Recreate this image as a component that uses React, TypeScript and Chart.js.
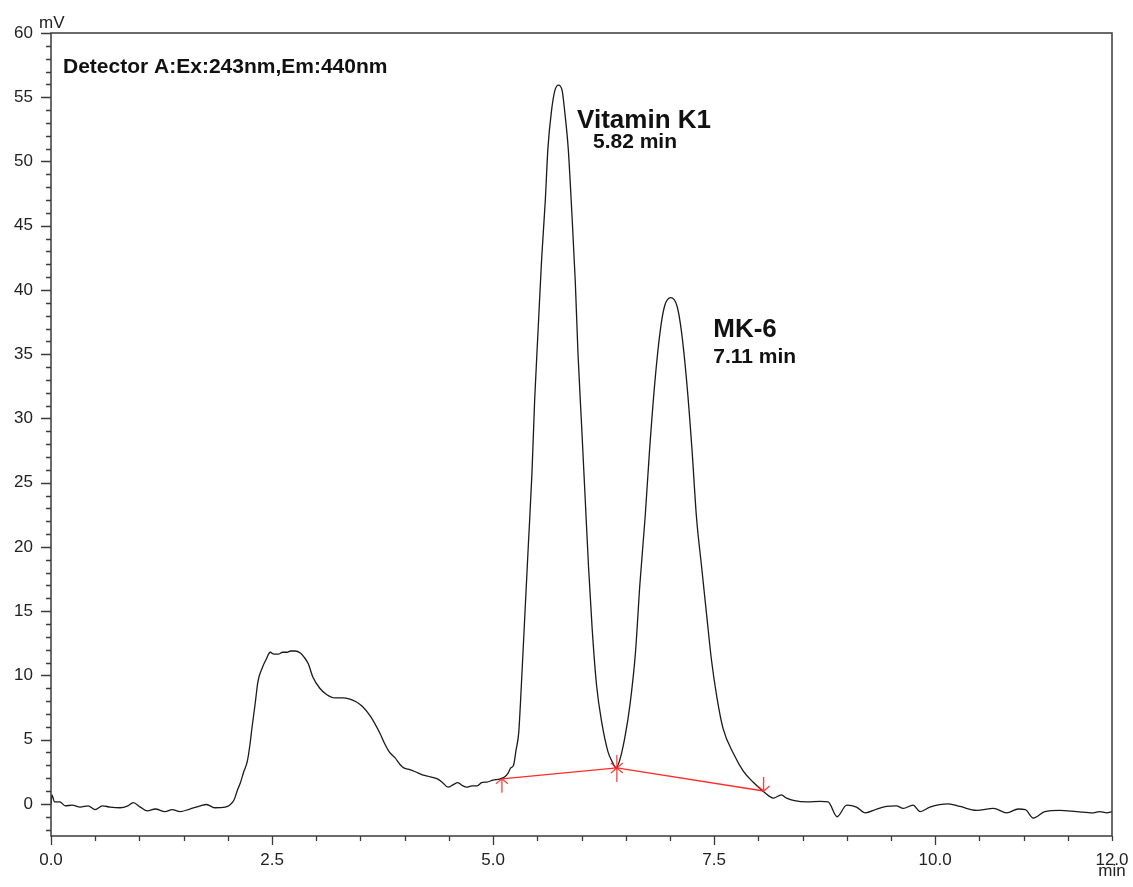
import React, { useEffect, useRef } from "react";
import { Chart, registerables } from "chart.js";

Chart.register(...registerables);

// ---- data ----
const TIME_MIN: number[] = [
  0.0, 0.01, 0.04, 0.1, 0.16, 0.24, 0.33, 0.42, 0.5, 0.58, 0.67, 0.78, 0.87, 0.93, 1.01, 1.09, 1.18, 1.29,
  1.37, 1.46, 1.57, 1.69, 1.76, 1.85, 1.97, 2.02, 2.07, 2.11,
  2.14, 2.18, 2.22, 2.25, 2.27, 2.31, 2.34, 2.39, 2.43, 2.48, 2.52, 2.57, 2.62, 2.67, 2.71, 2.76, 2.82,
  2.86, 2.91, 2.96, 3.04, 3.12, 3.21, 3.3, 3.38, 3.45, 3.52, 3.61, 3.72,
  3.78, 3.83, 3.89, 3.95, 3.99, 4.04, 4.12, 4.2, 4.29, 4.37, 4.43, 4.49, 4.55, 4.6, 4.66, 4.7, 4.76,
  4.82, 4.87, 4.93, 5.0, 5.08, 5.13, 5.17, 5.2,
  5.23, 5.26, 5.29, 5.32, 5.36, 5.4, 5.44, 5.47, 5.51, 5.55, 5.59, 5.62, 5.66, 5.7, 5.74, 5.78, 5.81,
  5.85, 5.89, 5.93, 5.96, 6.0, 6.04, 6.08, 6.12, 6.17, 6.23, 6.3, 6.35, 6.39,
  6.43, 6.49, 6.55, 6.61, 6.66, 6.72, 6.77, 6.83, 6.89, 6.94, 7.01, 7.08, 7.13, 7.19, 7.25, 7.3, 7.36,
  7.42, 7.47, 7.53, 7.6, 7.72, 7.83, 7.94, 8.06, 8.17, 8.26, 8.32,
  8.41, 8.55, 8.7, 8.79, 8.89, 9.0, 9.11, 9.21, 9.34, 9.45, 9.56, 9.64, 9.75, 9.83, 9.94, 10.15, 10.28,
  10.47, 10.66, 10.81, 10.94, 11.02, 11.11, 11.24, 11.41, 11.6, 11.79, 11.86, 11.94, 12.0,
];

const SIGNAL_MV: number[] = [
  -0.05, 0.7, 0.15, 0.15, -0.15, -0.1, -0.25, -0.15, -0.45, -0.15, -0.25, -0.3, -0.15, 0.1, -0.25, -0.55, -0.4, -0.6,
  -0.45, -0.6, -0.4, -0.15, -0.05, -0.3, -0.25, -0.1, 0.3, 1.1,
  1.6, 2.5, 3.3, 4.6, 5.75, 7.85, 9.5, 10.6, 11.2, 11.8, 11.65, 11.65, 11.8, 11.8, 11.9, 11.9, 11.75,
  11.45, 10.9, 9.9, 9.0, 8.5, 8.25, 8.25, 8.15, 7.95, 7.6, 6.85, 5.5,
  4.6, 4.0, 3.6, 3.05, 2.8, 2.7, 2.5, 2.25, 2.1, 1.95, 1.65, 1.3, 1.5, 1.65, 1.4, 1.3, 1.4,
  1.4, 1.65, 1.7, 1.85, 1.95, 2.1, 2.4, 2.8,
  2.98, 4.2, 5.55, 9.25, 14.8, 20.3, 25.8, 31.4, 37.0, 42.5, 46.9, 51.0, 53.9, 55.55, 55.95, 55.55, 53.9,
  51.0, 46.1, 40.6, 35.1, 29.6, 24.0, 18.4, 13.7, 9.25, 6.3, 4.05, 3.25, 2.8,
  3.35, 5.15, 7.8, 11.75, 17.05, 22.35, 27.55, 32.85, 36.8, 38.75, 39.4, 38.75, 36.8, 32.85, 27.55, 22.35, 18.35,
  14.4, 11.2, 8.35, 5.9, 3.9, 2.55, 1.7, 0.95, 0.45, 0.7, 0.45,
  0.25, 0.15, 0.2, 0.15, -1.0, -0.1, -0.25, -0.7, -0.4, -0.2, -0.15, -0.35, -0.1, -0.6, -0.25, 0.0, -0.2,
  -0.5, -0.35, -0.7, -0.4, -0.45, -1.1, -0.6, -0.5, -0.6, -0.7, -0.6, -0.7, -0.6,
];

// integration baseline (red) and its marker kinds
const BASELINE_TIME: number[] = [5.1, 6.4, 8.06];
const BASELINE_MV: number[] = [1.95, 2.8, 1.0];
const BASELINE_MARKS: string[] = ["start", "split", "end"];

// peak annotations
const PEAK_NAMES: string[] = ["Vitamin K1", "MK-6"];
const PEAK_RT_LABELS: string[] = ["5.82 min", "7.11 min"];
const DETECTOR_LABEL = "Detector A:Ex:243nm,Em:440nm";

// axis ticks
const X_LABEL_VALUES: number[] = [0, 2.5, 5, 7.5, 10, 12];
const X_TICK_LABELS: string[] = ["0.0", "2.5", "5.0", "7.5", "10.0", "12.0"];
const Y_LABEL_VALUES: number[] = [0, 5, 10, 15, 20, 25, 30, 35, 40, 45, 50, 55, 60];
const Y_TICK_LABELS: string[] = ["0", "5", "10", "15", "20", "25", "30", "35", "40", "45", "50", "55", "60"];
const X_UNIT = "min";
const Y_UNIT = "mV";

const FONT = "'Liberation Sans', Arial, Helvetica, sans-serif";

function near(a: number, b: number) {
  return Math.abs(a - b) < 1e-6;
}

const decorPlugin = {
  id: "decor",
  afterDraw(chart: any) {
    const ctx = chart.ctx;
    const xs = chart.scales.x;
    const ys = chart.scales.y;
    const ca = chart.chartArea;
    ctx.save();

    // frame
    ctx.strokeStyle = "#3a3a3a";
    ctx.lineWidth = 1.5;
    ctx.strokeRect(ca.left, ca.top, ca.right - ca.left, ca.bottom - ca.top);

    // tick marks
    ctx.lineWidth = 1.3;
    ctx.beginPath();
    ys.ticks.forEach((t: any) => {
      const py = Math.round(ys.getPixelForValue(t.value)) + 0.5;
      const major = Y_LABEL_VALUES.some((v) => near(v, t.value));
      const len = major ? 10 : 5;
      ctx.moveTo(ca.left - len, py);
      ctx.lineTo(ca.left, py);
    });
    xs.ticks.forEach((t: any) => {
      const px = Math.round(xs.getPixelForValue(t.value)) + 0.5;
      const major = X_LABEL_VALUES.some((v) => near(v, t.value)) && !near(t.value, 12);
      const len = major ? 9 : 5;
      ctx.moveTo(px, ca.bottom);
      ctx.lineTo(px, ca.bottom + len);
    });
    ctx.stroke();

    // x tick labels
    ctx.fillStyle = "#222";
    ctx.font = `17px ${FONT}`;
    ctx.textAlign = "center";
    ctx.textBaseline = "alphabetic";
    X_LABEL_VALUES.forEach((v, i) => {
      ctx.fillText(X_TICK_LABELS[i], xs.getPixelForValue(v), ca.bottom + 29);
    });

    // unit labels
    ctx.textAlign = "left";
    ctx.fillText(Y_UNIT, ca.left - 12, ca.top - 5);
    ctx.textAlign = "center";
    ctx.fillText(X_UNIT, ca.right, ca.bottom + 40);

    // annotations
    ctx.fillStyle = "#111";
    ctx.textAlign = "left";
    ctx.font = `bold 21px ${FONT}`;
    ctx.fillText(DETECTOR_LABEL, xs.getPixelForValue(0.136), ys.getPixelForValue(56.9));

    const nameAnchors = [
      [5.95, 52.6],
      [7.49, 36.35],
    ];
    const rtAnchors = [
      [6.13, 51.05],
      [7.49, 34.3],
    ];
    PEAK_NAMES.forEach((name, i) => {
      ctx.font = `bold 26px ${FONT}`;
      ctx.fillText(name, xs.getPixelForValue(nameAnchors[i][0]), ys.getPixelForValue(nameAnchors[i][1]));
      ctx.font = `bold 21px ${FONT}`;
      ctx.fillText(PEAK_RT_LABELS[i], xs.getPixelForValue(rtAnchors[i][0]), ys.getPixelForValue(rtAnchors[i][1]));
    });

    // baseline markers
    ctx.strokeStyle = "rgba(255,30,30,0.85)";
    ctx.lineWidth = 1.3;
    BASELINE_TIME.forEach((t, i) => {
      const px = xs.getPixelForValue(t);
      const py = ys.getPixelForValue(BASELINE_MV[i]);
      const kind = BASELINE_MARKS[i];
      ctx.beginPath();
      if (kind === "start") {
        ctx.moveTo(px, py);
        ctx.lineTo(px, py + 14);
        ctx.moveTo(px - 6, py + 5);
        ctx.lineTo(px, py);
        ctx.lineTo(px + 6, py + 5);
      } else if (kind === "end") {
        ctx.moveTo(px, py);
        ctx.lineTo(px, py - 14);
        ctx.moveTo(px - 6, py - 5);
        ctx.lineTo(px, py);
        ctx.lineTo(px + 6, py - 5);
      } else {
        ctx.moveTo(px, py - 13);
        ctx.lineTo(px, py + 14);
        ctx.moveTo(px - 6, py - 5);
        ctx.lineTo(px + 6, py + 5);
        ctx.moveTo(px - 6, py + 5);
        ctx.lineTo(px + 6, py - 5);
      }
      ctx.stroke();
    });

    ctx.restore();
  },
};

export default function App() {
  const canvasRef = useRef<HTMLCanvasElement | null>(null);

  useEffect(() => {
    const canvas = canvasRef.current;
    if (!canvas) return;

    const trace = TIME_MIN.map((t, i) => ({ x: t, y: SIGNAL_MV[i] }));
    const baseline = BASELINE_TIME.map((t, i) => ({ x: t, y: BASELINE_MV[i] }));

    const chart = new Chart(canvas, {
      type: "line",
      data: {
        datasets: [
          {
            data: baseline,
            borderColor: "rgba(255,20,20,0.9)",
            borderWidth: 1.4,
            pointRadius: 0,
            tension: 0,
            order: 0,
          },
          {
            data: trace,
            borderColor: "#1a1a1a",
            borderWidth: 1.3,
            pointRadius: 0,
            cubicInterpolationMode: "monotone",
            order: 1,
          },
        ],
      },
      options: {
        responsive: false,
        maintainAspectRatio: false,
        animation: false,
        layout: { padding: { top: 33, right: 21, left: 0, bottom: 0 } },
        plugins: {
          legend: { display: false },
          tooltip: { enabled: false },
          title: { display: false },
        },
        scales: {
          x: {
            type: "linear",
            min: 0,
            max: 12,
            grid: { display: false },
            border: { display: false },
            afterBuildTicks: (s: any) => {
              const arr: any[] = [];
              for (let k = 0; k <= 24; k++) arr.push({ value: k * 0.5 });
              s.ticks = arr;
            },
            afterFit: (s: any) => {
              s.height = 51;
            },
            ticks: {
              display: false,
              autoSkip: false,
              maxRotation: 0,
              minRotation: 0,
            },
          },
          y: {
            type: "linear",
            min: -2.5,
            max: 60,
            grid: { display: false },
            border: { display: false },
            afterBuildTicks: (s: any) => {
              const arr: any[] = [];
              for (let k = -2; k <= 60; k++) arr.push({ value: k });
              s.ticks = arr;
            },
            afterFit: (s: any) => {
              s.width = 51;
            },
            ticks: {
              autoSkip: false,
              padding: 10,
              color: "#222",
              font: { family: FONT, size: 17 },
              callback: (v: any) => {
                const idx = Y_LABEL_VALUES.findIndex((y) => near(y, Number(v)));
                return idx >= 0 ? Y_TICK_LABELS[idx] : "";
              },
            },
          },
        },
      },
      plugins: [decorPlugin],
    });

    return () => chart.destroy();
  }, []);

  return (
    <div style={{ position: "absolute", left: 0, top: 0, width: 1133, height: 887, background: "#fff" }}>
      <canvas ref={canvasRef} width={1133} height={887} style={{ display: "block" }} />
    </div>
  );
}
